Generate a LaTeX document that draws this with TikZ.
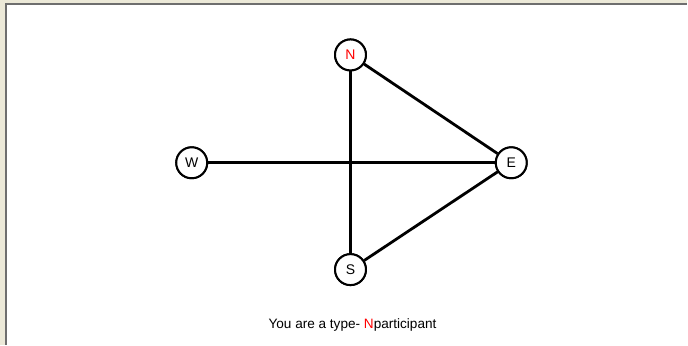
\documentclass[tikz,border=0pt]{standalone}
\usepackage{fontspec}
\setmainfont{Liberation Sans}
\usetikzlibrary{calc}
\definecolor{panelbg}{HTML}{ECE9D8}
\definecolor{panelrim}{HTML}{6E6E6E}
\tikzset{
% player node of the network
player node/.style={circle,draw,line width=2pt,fill=white,minimum size=31pt,inner sep=0pt,font=\fontsize{14}{16}\selectfont},
link/.style={line width=2.8pt}
}

\begin{document}
\begin{tikzpicture}[x=1pt,y=-1pt]
% window frame
\fill[panelbg](0,0)rectangle(688,345);
\fill[white](6,4)rectangle(688,345);
\draw[panelrim,line width=2pt](6,345)--(6,4)--(688,4);
\useasboundingbox(0,0)rectangle(688,345);
% The players
\node(N)[player node,text=red] at (351,55){N};
\node(W)[player node] at (192,163){W};
\node(E)[player node] at (512,163){E};
\node(S)[player node] at (351,270){S};
% links
\draw[link](N)--(S);
\draw[link](W)--(E);
\draw[link](N)--(E);
\draw[link](S)--(E);
% redraw nodes on top
\node[player node,text=red] at (N){N};
\node[player node] at (W){W};
\node[player node] at (E){E};
\node[player node] at (S){S};
% caption
\node(caption)[font=\fontsize{13.6}{16}\selectfont] at (353,325){You are a type- {\color{red}N}participant};
\end{tikzpicture}
\end{document}
